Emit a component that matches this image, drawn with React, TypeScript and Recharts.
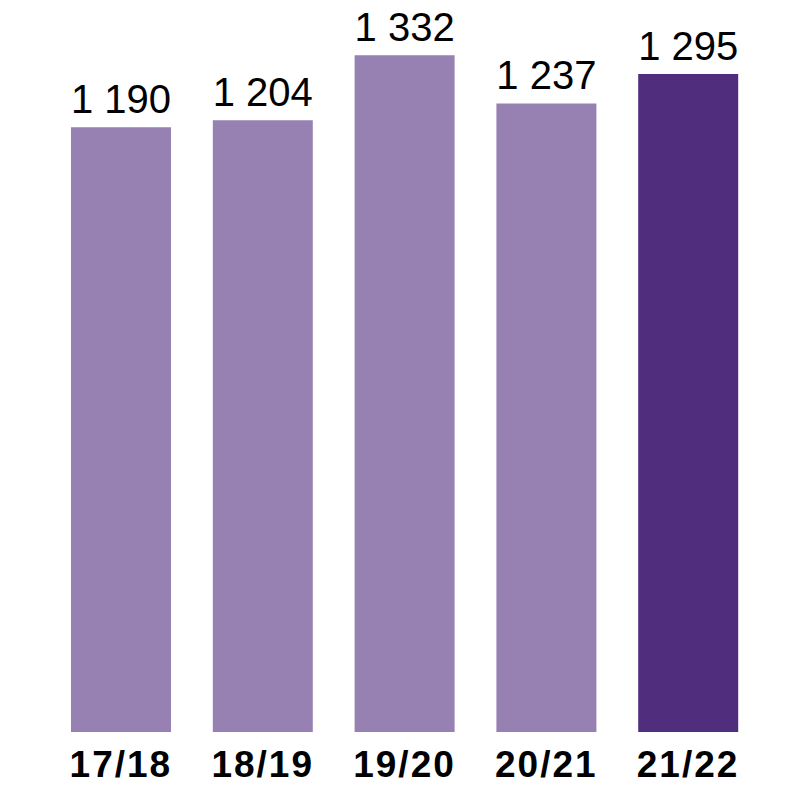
import React from "react";
import { BarChart, Bar, XAxis, YAxis, Cell, LabelList } from "recharts";

const categories = ["17/18", "18/19", "19/20", "20/21", "21/22"];
const values = [1190, 1204, 1332, 1237, 1295];
const colors = ["#9681B2", "#9681B2", "#9681B2", "#9681B2", "#502D7D"];

const data = categories.map((c, i) => ({ name: c, value: values[i] }));

const fmt = (v: number) => {
  const s = String(v);
  return s.replace(/\B(?=(\d{3})+(?!\d))/g, " ");
};

export default function App() {
  return (
    <div style={{ margin: "-8px 0 0 -8px", width: 790, height: 787 }}>
      <BarChart
        width={790}
        height={787}
        data={data}
        margin={{ top: 20.6, right: 31, bottom: 0, left: 50 }}
        barCategoryGap={0}
      >
        <XAxis
          dataKey="name"
          axisLine={false}
          tickLine={false}
          tickSize={0}
          tickMargin={19}
          height={55}
          interval={0}
          tick={{
            fill: "#000",
            fontSize: 37,
            fontWeight: 700,
            fontFamily: "Liberation Sans, Arial, sans-serif",
            letterSpacing: 2,
          }}
        />
        <YAxis hide domain={[0, 1400]} />
        <Bar dataKey="value" barSize={100} isAnimationActive={false}>
          {data.map((d, i) => (
            <Cell key={d.name} fill={colors[i]} />
          ))}
          <LabelList
            dataKey="value"
            position="top"
            offset={14}
            formatter={(v: any) => fmt(Number(v))}
            style={{
              fill: "#000",
              fontSize: 40,
              fontWeight: 400,
              fontFamily: "Liberation Sans, Arial, sans-serif",
            }}
          />
        </Bar>
      </BarChart>
    </div>
  );
}
